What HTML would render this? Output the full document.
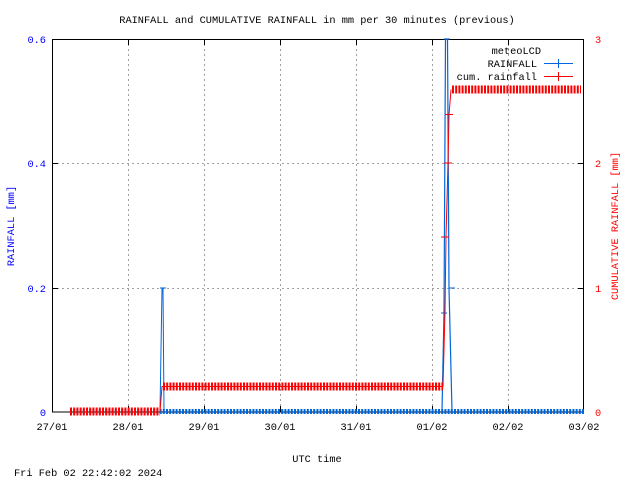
<!DOCTYPE html>
<html><head><meta charset="utf-8"><style>
body{margin:0;background:#fff}
svg{display:block;font-family:"Liberation Mono","DejaVu Sans Mono",monospace;font-size:10.3px}
</style></head><body>
<svg width="640" height="480" xmlns="http://www.w3.org/2000/svg">
<rect width="640" height="480" fill="#fff"/>
<g stroke="#a0a0a0" stroke-dasharray="2,3" stroke-width="1">
<line x1="128.5" y1="39" x2="128.5" y2="412"/><line x1="204.5" y1="39" x2="204.5" y2="412"/>
<line x1="280.5" y1="39" x2="280.5" y2="412"/><line x1="356.5" y1="39" x2="356.5" y2="412"/>
<line x1="432.5" y1="39" x2="432.5" y2="412"/><line x1="508.5" y1="39" x2="508.5" y2="412"/>
<line x1="52" y1="288.5" x2="584" y2="288.5"/><line x1="52" y1="163.5" x2="584" y2="163.5"/>
</g>
<rect x="52.5" y="39.5" width="531" height="372.5" fill="none" stroke="#000"/>
<g stroke="#000">
<line x1="128.5" y1="412" x2="128.5" y2="406"/><line x1="204.5" y1="412" x2="204.5" y2="406"/>
<line x1="280.5" y1="412" x2="280.5" y2="406"/><line x1="356.5" y1="412" x2="356.5" y2="406"/>
<line x1="432.5" y1="412" x2="432.5" y2="406"/><line x1="508.5" y1="412" x2="508.5" y2="406"/>
<line x1="128.5" y1="39" x2="128.5" y2="45"/><line x1="204.5" y1="39" x2="204.5" y2="45"/>
<line x1="280.5" y1="39" x2="280.5" y2="45"/><line x1="356.5" y1="39" x2="356.5" y2="45"/>
<line x1="432.5" y1="39" x2="432.5" y2="45"/><line x1="508.5" y1="39" x2="508.5" y2="45"/>
<line x1="52" y1="288.5" x2="58" y2="288.5"/><line x1="52" y1="163.5" x2="58" y2="163.5"/>
<line x1="584" y1="288.5" x2="578" y2="288.5"/><line x1="584" y1="163.5" x2="578" y2="163.5"/><line x1="584" y1="39.5" x2="578" y2="39.5"/>
</g>
<!-- blue rainfall -->
<g stroke="#0066dd">
<line x1="70" y1="411.5" x2="584" y2="411.5" stroke-width="5" stroke-dasharray="2,1.2"/>
<polyline fill="none" points="160,411.5 162,288 163,288 164,411.5"/>
<line x1="160" y1="288" x2="166" y2="288"/>
<polyline fill="none" stroke-width="1.2" points="442,411.5 444,313 445.5,39 446.5,39 447.5,39 449,288 452,411.5"/>
<line x1="441" y1="313" x2="447" y2="313"/><line x1="449" y1="288" x2="455" y2="288"/>
<line x1="444" y1="39" x2="450" y2="39"/>
</g>
<!-- red cumulative -->
<g stroke="#ff0000">
<line x1="70" y1="411.5" x2="160" y2="411.5" stroke-width="8" stroke-dasharray="2,1.2"/>
<line x1="163" y1="386.5" x2="443" y2="386.5" stroke-width="8" stroke-dasharray="2,1.2"/>
<line x1="452" y1="89.5" x2="581" y2="89.5" stroke-width="8" stroke-dasharray="2,1.2"/>
<polyline fill="none" stroke-width="1" points="160,411.5 162,386.5 443,386.5 445,312 446,237 448,163 449,115 451,89.5"/>
<line x1="441" y1="237" x2="449" y2="237"/><line x1="444" y1="163" x2="452" y2="163"/><line x1="445" y1="114.5" x2="453" y2="114.5"/>
</g>
<!-- legend -->
<text x="541" y="54" text-anchor="end" fill="#000">meteoLCD</text>
<text x="537" y="67" text-anchor="end" fill="#000">RAINFALL</text>
<line x1="544" y1="63.5" x2="573" y2="63.5" stroke="#0066dd"/><line x1="558.5" y1="59" x2="558.5" y2="68" stroke="#0066dd"/>
<text x="537" y="80" text-anchor="end" fill="#000">cum. rainfall</text>
<line x1="544" y1="76.5" x2="573" y2="76.5" stroke="#ff0000"/><line x1="558.5" y1="72" x2="558.5" y2="81" stroke="#ff0000"/>
<!-- labels -->
<text x="317" y="23" text-anchor="middle">RAINFALL and CUMULATIVE RAINFALL in mm per 30 minutes (previous)</text>
<g fill="#0000ff" text-anchor="end">
<text x="46" y="416">0</text><text x="46" y="292">0.2</text><text x="46" y="167">0.4</text><text x="46" y="43">0.6</text>
</g>
<g fill="#ff0000">
<text x="595" y="416">0</text><text x="595" y="292">1</text><text x="595" y="167">2</text><text x="595" y="43">3</text>
</g>
<g text-anchor="middle">
<text x="52" y="430">27/01</text><text x="128" y="430">28/01</text><text x="204" y="430">29/01</text>
<text x="280" y="430">30/01</text><text x="356" y="430">31/01</text><text x="432" y="430">01/02</text>
<text x="508" y="430">02/02</text><text x="584" y="430">03/02</text>
<text x="317" y="462">UTC time</text>
</g>
<text x="14" y="476">Fri Feb 02 22:42:02 2024</text>
<text transform="translate(14,226) rotate(-90)" text-anchor="middle" fill="#0000ff">RAINFALL [mm]</text>
<text transform="translate(618,226) rotate(-90)" text-anchor="middle" fill="#ff0000">CUMULATIVE RAINFALL [mm]</text>
</svg>
</body></html>
